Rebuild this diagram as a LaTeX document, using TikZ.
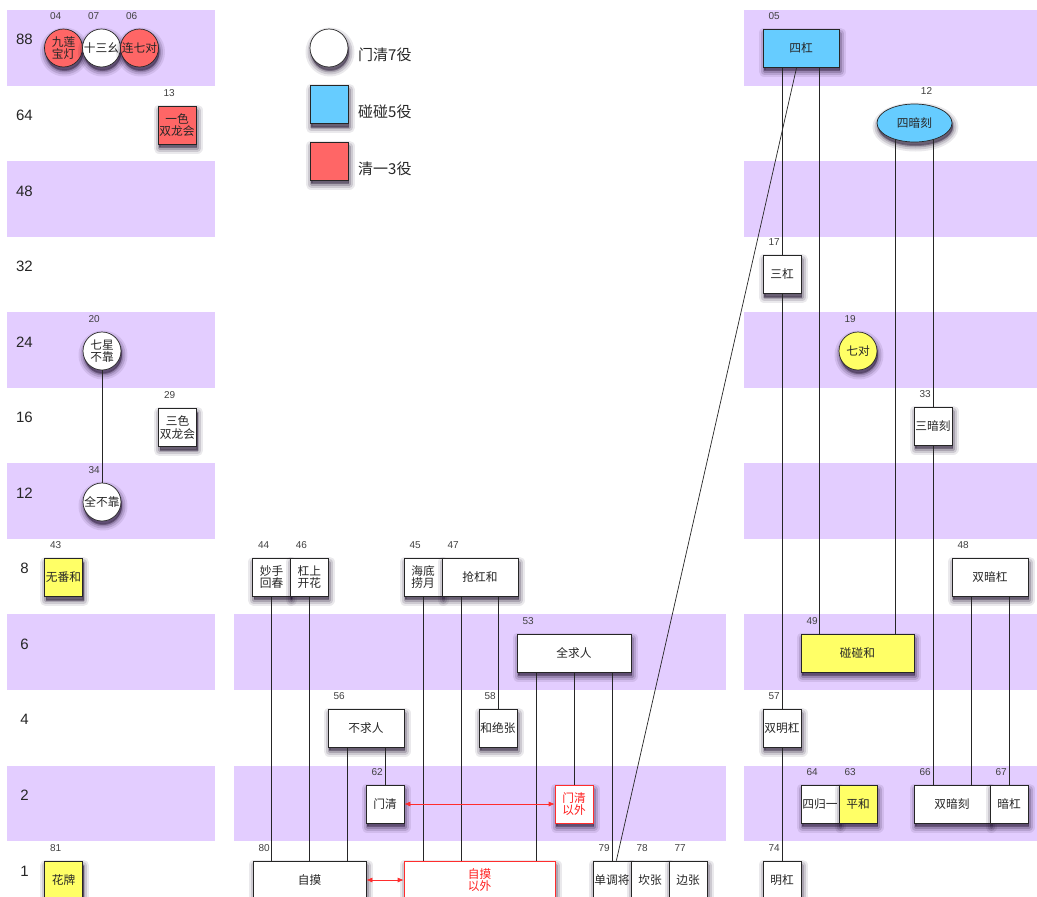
\documentclass[tikz,border=0pt]{standalone}
\usepackage{fontspec}
\setmainfont{Liberation Sans}
\newfontfamily\cjk{Noto Sans CJK SC}
\usetikzlibrary{shapes.geometric,calc,arrows.meta,shadows}
\definecolor{bandc}{RGB}{227,205,255}
\definecolor{redf}{RGB}{255,102,102}
\definecolor{bluef}{RGB}{102,204,255}
\definecolor{yelf}{RGB}{255,255,102}
\definecolor{redln}{RGB}{255,45,45}
\definecolor{redtx}{RGB}{255,30,30}
\definecolor{shc}{RGB}{30,15,45}
\newcommand\numlbl[2]{\node[numst] (lab#1) at ($(#1.west |- #1.north)+(11.5,-13)$) {#2};}
\begin{document}
\begin{tikzpicture}[x=1pt,y=-1pt,
  softshadow/.style={
    general shadow={shadow xshift=1pt, shadow yshift=-4pt, fill=shc, draw=shc, line width=11pt, line join=round, opacity=0.09},
    general shadow={shadow xshift=1pt, shadow yshift=-4pt, fill=shc, draw=shc, line width=7pt, line join=round, opacity=0.14},
    general shadow={shadow xshift=1pt, shadow yshift=-4pt, fill=shc, draw=shc, line width=3pt, line join=round, opacity=0.2},
    general shadow={shadow xshift=1pt, shadow yshift=-3pt, fill=shc, opacity=0.3}},
  nd/.style={softshadow, draw=black!85, line width=0.7pt, inner sep=0pt, align=center, text=black!85,
    font=\cjk\fontsize{11.7}{12.5}\selectfont},
  bx/.style={nd, rectangle, minimum width=#1, minimum height=38pt},
  bx/.default=38pt,
  cir/.style={nd, circle, minimum size=38pt},
  redbx/.style={bx=#1, draw=redln, text=redtx},
  redbx/.default=38pt,
  numst/.style={inner sep=0pt, text=black!75, font=\fontsize{10}{12}\selectfont},
  rowst/.style={inner sep=0pt, text=black!85, font=\fontsize{15}{18}\selectfont},
  legtxt/.style={inner sep=0pt, anchor=west, text=black!85, font=\cjk\fontsize{15}{18}\selectfont},
  conn/.style={draw=black!85, line width=0.7pt},
  redarr/.style={draw=redln, line width=0.7pt, {Latex[length=6pt,width=5pt]}-{Latex[length=6pt,width=5pt]}}
]
\useasboundingbox (0,0) rectangle (1037,897);
\fill[white] (0,0) rectangle (1037,897);
\foreach \k in {0,2,4,6,8,10}{
  \fill[bandc] (7,{10+75.55*\k}) rectangle (215,{10+75.55*(\k+1)});
  \fill[bandc] (744,{10+75.55*\k}) rectangle (1037,{10+75.55*(\k+1)});
}
\foreach \k in {8,10}{
  \fill[bandc] (234,{10+75.55*\k}) rectangle (726,{10+75.55*(\k+1)});
}
% row labels
\foreach \k/\t in {0/88,1/64,2/48,3/32,4/24,5/16,6/12,7/8,8/6,9/4,10/2,11/1}{
  \node[rowst] (row\k) at (24.5,{39.8+75.55*\k}) {\t};
}
% left column
\node[cir, fill=redf] (n04) at (63.5,48) {九莲\\宝灯};
\node[cir, fill=white] (n07) at (101.5,48) {十三幺};
\node[cir, fill=redf] (n06) at (139.5,48) {连七对};
\node[bx, fill=redf] (n13) at (177,125) {一色\\双龙会};
\node[cir, fill=white] (n20) at (102,351) {七星\\不靠};
\node[bx, fill=white] (n29) at (177.5,427.5) {三色\\双龙会};
\node[cir, fill=white] (n34) at (102,502) {全不靠};
\node[bx, fill=yelf] (n43) at (63.5,577.5) {无番和};
\node[bx, fill=yelf] (n81) at (63.5,880.5) {花牌};
% legend
\node[cir, fill=white] (lg1) at (329,48) {};
\node[bx, fill=bluef] (lg2) at (329,104.5) {};
\node[bx, fill=redf] (lg3) at (329,161) {};
\node[legtxt] (lt1) at (358,55) {门清7役};
\node[legtxt] (lt2) at (358,111.5) {碰碰5役};
\node[legtxt] (lt3) at (358,168.5) {清一3役};
% middle
\node[bx, fill=white] (n44) at (271.5,577) {妙手\\回春};
\node[bx, fill=white] (n46) at (309.3,577) {杠上\\开花};
\node[bx, fill=white] (n45) at (423,577) {海底\\捞月};
\node[bx=76pt, fill=white] (n47) at (480,577) {抢杠和};
\node[bx=114pt, fill=white] (n53) at (574,653) {全求人};
\node[bx=76pt, fill=white] (n56) at (366,728) {不求人};
\node[bx, fill=white] (n58) at (498,728) {和绝张};
\node[bx, fill=white] (n62) at (385,804) {门清};
\node[redbx, fill=white] (nmq) at (574,804) {门清\\以外};
\node[bx=113pt, fill=white] (n80) at (309.5,880) {自摸};
\node[redbx=151pt, fill=white] (nzm) at (479.5,880) {自摸\\以外};
\node[bx, fill=white] (n79) at (612,880) {单调将};
\node[bx, fill=white] (n78) at (650,880) {坎张};
\node[bx, fill=white] (n77) at (688,880) {边张};
% right
\node[bx=76pt, fill=bluef] (n05) at (801,48) {四杠};
\node[nd, ellipse, fill=bluef, minimum width=75pt, minimum height=38pt] (n12) at (914.5,123) {四暗刻};
\node[bx, fill=white] (n17) at (782,274.5) {三杠};
\node[cir, fill=yelf] (n19) at (858,351) {七对};
\node[bx, fill=white] (n33) at (933,426) {三暗刻};
\node[bx=76pt, fill=white] (n48) at (990,577) {双暗杠};
\node[bx=113pt, fill=yelf] (n49) at (857.5,653) {碰碰和};
\node[bx, fill=white] (n57) at (782,728) {双明杠};
\node[bx, fill=white] (n64) at (820,804) {四归一};
\node[bx, fill=yelf] (n63) at (858,804) {平和};
\node[bx=76pt, fill=white] (n66) at (952,804) {双暗刻};
\node[bx, fill=white] (n67) at (1009,804) {暗杠};
\node[bx, fill=white] (n74) at (782,880) {明杠};
% number labels
\numlbl{n04}{04}\numlbl{n07}{07}\numlbl{n06}{06}\numlbl{n13}{13}
\numlbl{n20}{20}\numlbl{n29}{29}\numlbl{n34}{34}\numlbl{n43}{43}\numlbl{n81}{81}
\numlbl{n44}{44}\numlbl{n46}{46}\numlbl{n45}{45}\numlbl{n47}{47}\numlbl{n53}{53}
\numlbl{n56}{56}\numlbl{n58}{58}\numlbl{n62}{62}\numlbl{n80}{80}
\numlbl{n79}{79}\numlbl{n78}{78}\numlbl{n77}{77}
\numlbl{n05}{05}\numlbl{n17}{17}\numlbl{n19}{19}\numlbl{n33}{33}\numlbl{n48}{48}
\numlbl{n49}{49}\numlbl{n57}{57}\numlbl{n64}{64}\numlbl{n63}{63}\numlbl{n66}{66}
\numlbl{n67}{67}\numlbl{n74}{74}
\node[numst] (labn12) at ($(n12.north)+(12,-13)$) {12};
% connectors
\draw[conn] (n20.south) -- (n34.north);
\draw[conn] (n44.south) -- (n44.south |- n80.north);
\draw[conn] (n46.south) -- (n46.south |- n80.north);
\draw[conn] ($(n56.south)+(-19,0)$) coordinate (c1) -- (c1 |- n80.north);
\draw[conn] (n62.north |- n56.south) -- (n62.north);
\draw[conn] (n45.south) -- (n45.south |- nzm.north);
\draw[conn] ($(n47.south)+(-19,0)$) coordinate (c2) -- (c2 |- nzm.north);
\draw[conn] (n58.north |- n47.south) -- (n58.north);
\draw[conn] ($(n53.south)+(-38,0)$) coordinate (c3) -- (c3 |- nzm.north);
\draw[conn] (n53.south) -- (nmq.north);
\draw[conn] (n79.north |- n53.south) -- (n79.north);
\draw[conn] (n05) -- (n79);
\draw[conn] (n17.north |- n05.south) -- (n17.north);
\draw[conn] (n17.south) -- (n57.north);
\draw[conn] (n57.south) -- (n74.north);
\draw[conn] ($(n05.south)+(18.5,0)$) coordinate (c4) -- (c4 |- n49.north);
\draw[conn] ($(n12.center)+(-19.5,16.2)$) coordinate (c5) -- (c5 |- n49.north);
\draw[conn] ($(n12.center)+(18.5,16.4)$) coordinate (c7) -- (c7 |- n33.north);
\draw[conn] (n33.south) -- (n33.south |- n66.north);
\draw[conn] ($(n48.south)+(-19,0)$) coordinate (c6) -- (c6 |- n66.north);
\draw[conn] (n67.north |- n48.south) -- (n67.north);
\draw[redarr] (n62.east) -- (nmq.west);
\draw[redarr] (n80.east) -- (nzm.west);
\end{tikzpicture}
\end{document}
